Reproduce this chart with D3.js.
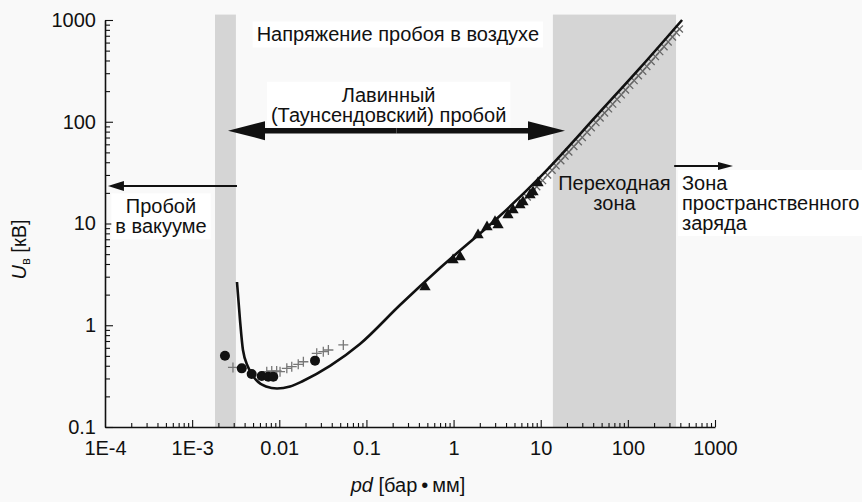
<!DOCTYPE html>
<html>
<head>
<meta charset="utf-8">
<script src="https://cdn.jsdelivr.net/npm/d3@7"></script>
<style>
  body { margin: 0; background: #f9f9f9; }
  svg { display: block; font-family: "Liberation Sans", Arial, sans-serif; }
</style>
</head>
<body>
<svg id="chart" width="862" height="502"></svg>
<script>
// Paschen curve for air (pd in bar*mm, U in kV)
const curvePd = [0.00327, 0.00354, 0.00383, 0.00438, 0.00541, 0.00705, 0.00942, 0.0133, 0.0187, 0.0382, 0.0843, 0.243, 0.698, 3.41, 9.82, 47.9, 138, 419];
const curveU  = [2.66, 1.13, 0.571, 0.389, 0.290, 0.250, 0.239, 0.250, 0.283, 0.398, 0.654, 1.58, 3.65, 11.9, 28.6, 125, 338, 1000];

// measurements
const circlePd = [0.00238, 0.00371, 0.00482, 0.00628, 0.00748, 0.00853, 0.0257];
const circleU  = [0.502, 0.377, 0.332, 0.317, 0.312, 0.312, 0.449];

const plusPd = [0.00294, 0.00718, 0.00819, 0.00933, 0.0102, 0.0122, 0.0139, 0.0165, 0.0189, 0.0269, 0.0320, 0.0366, 0.0543];
const plusU  = [0.385, 0.350, 0.355, 0.355, 0.350, 0.377, 0.392, 0.413, 0.438, 0.530, 0.550, 0.571, 0.640];

const triPd = [0.470, 0.987, 1.19, 1.91, 2.42, 2.99, 3.24, 4.21, 4.81, 5.78, 6.26, 7.54, 8.16, 9.31];
const triU  = [2.38, 4.38, 4.69, 7.71, 9.25, 10.4, 9.67, 12.1, 13.6, 15.2, 16.3, 19.1, 20.4, 25.0];

const crossPd = [7, 8, 9, 10.5, 12, 13.5, 15, 17, 19, 21, 24, 27, 30, 34, 38, 43, 48, 54, 60, 67, 75, 84, 94, 105, 118, 132, 148, 165, 185, 207, 232, 260, 290, 325, 360, 390];
const crossU  = [18.2, 20.5, 23.0, 26.4, 30.0, 33.4, 36.9, 41.4, 46.0, 50.4, 57.1, 63.7, 70.2, 78.8, 87.5, 98.1, 108.8, 122, 134, 149, 166, 184, 205, 228, 254, 283, 314, 350, 391, 437, 489, 547, 609, 681, 752, 815];

const xTicks = [1e-4, 1e-3, 0.01, 0.1, 1, 10, 100, 1000];
const xTickLabels = ["1E-4", "1E-3", "0.01", "0.1", "1", "10", "100", "1000"];
const yTicks = [0.1, 1, 10, 100, 1000];
const yTickLabels = ["0.1", "1", "10", "100", "1000"];

// shaded zones [pd from, pd to]
const zoneVacuum = [0.00183, 0.00318];
const zoneTransition = [13.8, 357];

const svg = d3.select("#chart");

const x = d3.scaleLog().domain([1e-4, 1000]).range([105, 715]);
const y = d3.scaleLog().domain([0.1, 1000]).range([427, 20]);

const fontSize = 20;

// zones
[zoneVacuum, zoneTransition].forEach(z => {
  svg.append("rect")
    .attr("x", x(z[0]))
    .attr("y", y(1130))
    .attr("width", x(z[1]) - x(z[0]))
    .attr("height", y(0.1) - y(1130))
    .attr("fill", "#d5d5d5");
});

// text with white box behind
function boxedText(lines, px, py, anchor, opts) {
  opts = opts || {};
  const g = svg.append("g");
  const t = g.append("text")
    .attr("x", px).attr("y", py)
    .attr("text-anchor", anchor)
    .attr("font-size", fontSize)
    .attr("fill", "#111");
  lines.forEach((l, i) => {
    t.append("tspan").attr("x", px).attr("dy", i === 0 ? 0 : 20).text(l);
  });
  if (opts.box !== false) {
    const bb = t.node().getBBox();
    g.insert("rect", "text")
      .attr("x", bb.x - 4).attr("y", bb.y - 2)
      .attr("width", bb.width + 8).attr("height", bb.height + 4)
      .attr("fill", opts.fill || "#fff");
  }
  return g;
}

// axes
const xAxis = d3.axisBottom(x)
  .tickValues(x.ticks())
  .tickSizeInner(-4).tickSizeOuter(0).tickPadding(14)
  .tickFormat(d => {
    const i = xTicks.findIndex(v => Math.abs(Math.log10(v) - Math.log10(d)) < 1e-6);
    return i >= 0 ? xTickLabels[i] : "";
  });
const gx = svg.append("g").attr("transform", `translate(0,${y(0.1)})`).call(xAxis);

const yAxis = d3.axisLeft(y)
  .tickValues(y.ticks())
  .tickSizeInner(-5).tickSizeOuter(0).tickPadding(9)
  .tickFormat(d => {
    const i = yTicks.findIndex(v => Math.abs(Math.log10(v) - Math.log10(d)) < 1e-6);
    return i >= 0 ? yTickLabels[i] : "";
  });
const gy = svg.append("g").attr("transform", `translate(${x(1e-4)},0)`).call(yAxis);

[gx, gy].forEach(g => {
  g.select(".domain").attr("stroke", "#111").attr("stroke-width", 1.6);
  g.selectAll(".tick line").attr("stroke", "#111").attr("stroke-width", 1.1);
  g.selectAll(".tick text").attr("font-size", fontSize).attr("fill", "#111")
    .attr("font-family", "Liberation Sans, Arial, sans-serif");
});
const isDecade = d => Math.abs(Math.log10(d) - Math.round(Math.log10(d))) < 1e-6;
gx.selectAll(".tick").filter(isDecade).select("line").attr("y2", -7);
gy.selectAll(".tick").filter(isDecade).select("line").attr("x2", 8);
gx.selectAll(".tick").filter(d => d === 1e-4).select("line").remove();

// measurement markers (gray crosses under the curve)
const crossPts = crossPd.map((d, i) => [d, crossU[i]]);
svg.append("g").selectAll("path").data(crossPts).join("path")
  .attr("transform", d => `translate(${x(d[0])},${y(d[1])}) rotate(45)`)
  .attr("d", "M-5,0H5M0,-5V5")
  .attr("stroke", "#666").attr("stroke-width", 1.3).attr("fill", "none");

const plusPts = plusPd.map((d, i) => [d, plusU[i]]);
svg.append("g").selectAll("path").data(plusPts).join("path")
  .attr("transform", d => `translate(${x(d[0])},${y(d[1])})`)
  .attr("d", "M-5,0H5M0,-5V5")
  .attr("stroke", "#777").attr("stroke-width", 1.3).attr("fill", "none");

// curve
const curvePts = curvePd.map((d, i) => [d, curveU[i]]);
svg.append("path")
  .datum(curvePts)
  .attr("d", d3.line().x(d => x(d[0])).y(d => y(d[1])).curve(d3.curveMonotoneX))
  .attr("fill", "none").attr("stroke", "#111").attr("stroke-width", 2.6);

const triPts = triPd.map((d, i) => [d, triU[i]]);
svg.append("g").selectAll("path").data(triPts).join("path")
  .attr("transform", d => `translate(${x(d[0])},${y(d[1])})`)
  .attr("d", d3.symbol(d3.symbolTriangle).size(55))
  .attr("fill", "#111");

const circPts = circlePd.map((d, i) => [d, circleU[i]]);
svg.append("g").selectAll("circle").data(circPts).join("circle")
  .attr("cx", d => x(d[0])).attr("cy", d => y(d[1])).attr("r", 5)
  .attr("fill", "#111");

// arrows
function arrow(x1, x2, yy, shaft, headL, headW) {
  const dir = Math.sign(x2 - x1);
  svg.append("line")
    .attr("x1", x1).attr("x2", x2 - dir * headL * 0.8)
    .attr("y1", yy).attr("y2", yy)
    .attr("stroke", "#111").attr("stroke-width", shaft);
  svg.append("path")
    .attr("d", `M${x2},${yy}L${x2 - dir * headL},${yy - headW}L${x2 - dir * headL},${yy + headW}Z`)
    .attr("fill", "#111");
}
const yAval = y(81.7);
const xa1 = x(0.00258), xa2 = x(19.0);
arrow((xa1 + xa2) / 2, xa1, yAval, 5.5, 37, 9.5);
arrow((xa1 + xa2) / 2, xa2, yAval, 5.5, 37, 9.5);

arrow(x(0.00327), x(1.08e-4), y(23.4), 2, 16, 5);
arrow(x(340), x(1610), y(36.7), 2, 15, 4);

// annotations
boxedText(["Напряжение пробоя в воздухе"], x(0.0055), y(615), "start");
boxedText(["Лавинный", "(Таунсендовский) пробой"], x(0.18), y(157), "middle");
boxedText(["Пробой", "в вакууме"], x(4.39e-4), y(12.6), "middle");
boxedText(["Переходная", "зона"], x(Math.sqrt(zoneTransition[0] * zoneTransition[1])), y(21.3), "middle", { box: false });
boxedText(["Зона", "пространственного", "заряда"], x(zoneTransition[1]) + 6, y(21.3), "start");

// axis titles
const yl = svg.append("text")
  .attr("transform", `translate(26,${(y(0.1) + y(1000)) / 2 + 26}) rotate(-90)`)
  .attr("text-anchor", "middle").attr("font-size", fontSize).attr("fill", "#111");
yl.append("tspan").attr("font-style", "italic").text("U");
yl.append("tspan").attr("font-size", 13).attr("dy", 4).text("в");
yl.append("tspan").attr("dy", -4).text(" [кВ]");

const xl = svg.append("text")
  .attr("x", x(0.3)).attr("y", 492)
  .attr("text-anchor", "middle").attr("font-size", fontSize).attr("fill", "#111");
xl.append("tspan").attr("font-style", "italic").text("pd");
xl.append("tspan").text(" [бар\u2009•\u2009мм]");
</script>
</body>
</html>
